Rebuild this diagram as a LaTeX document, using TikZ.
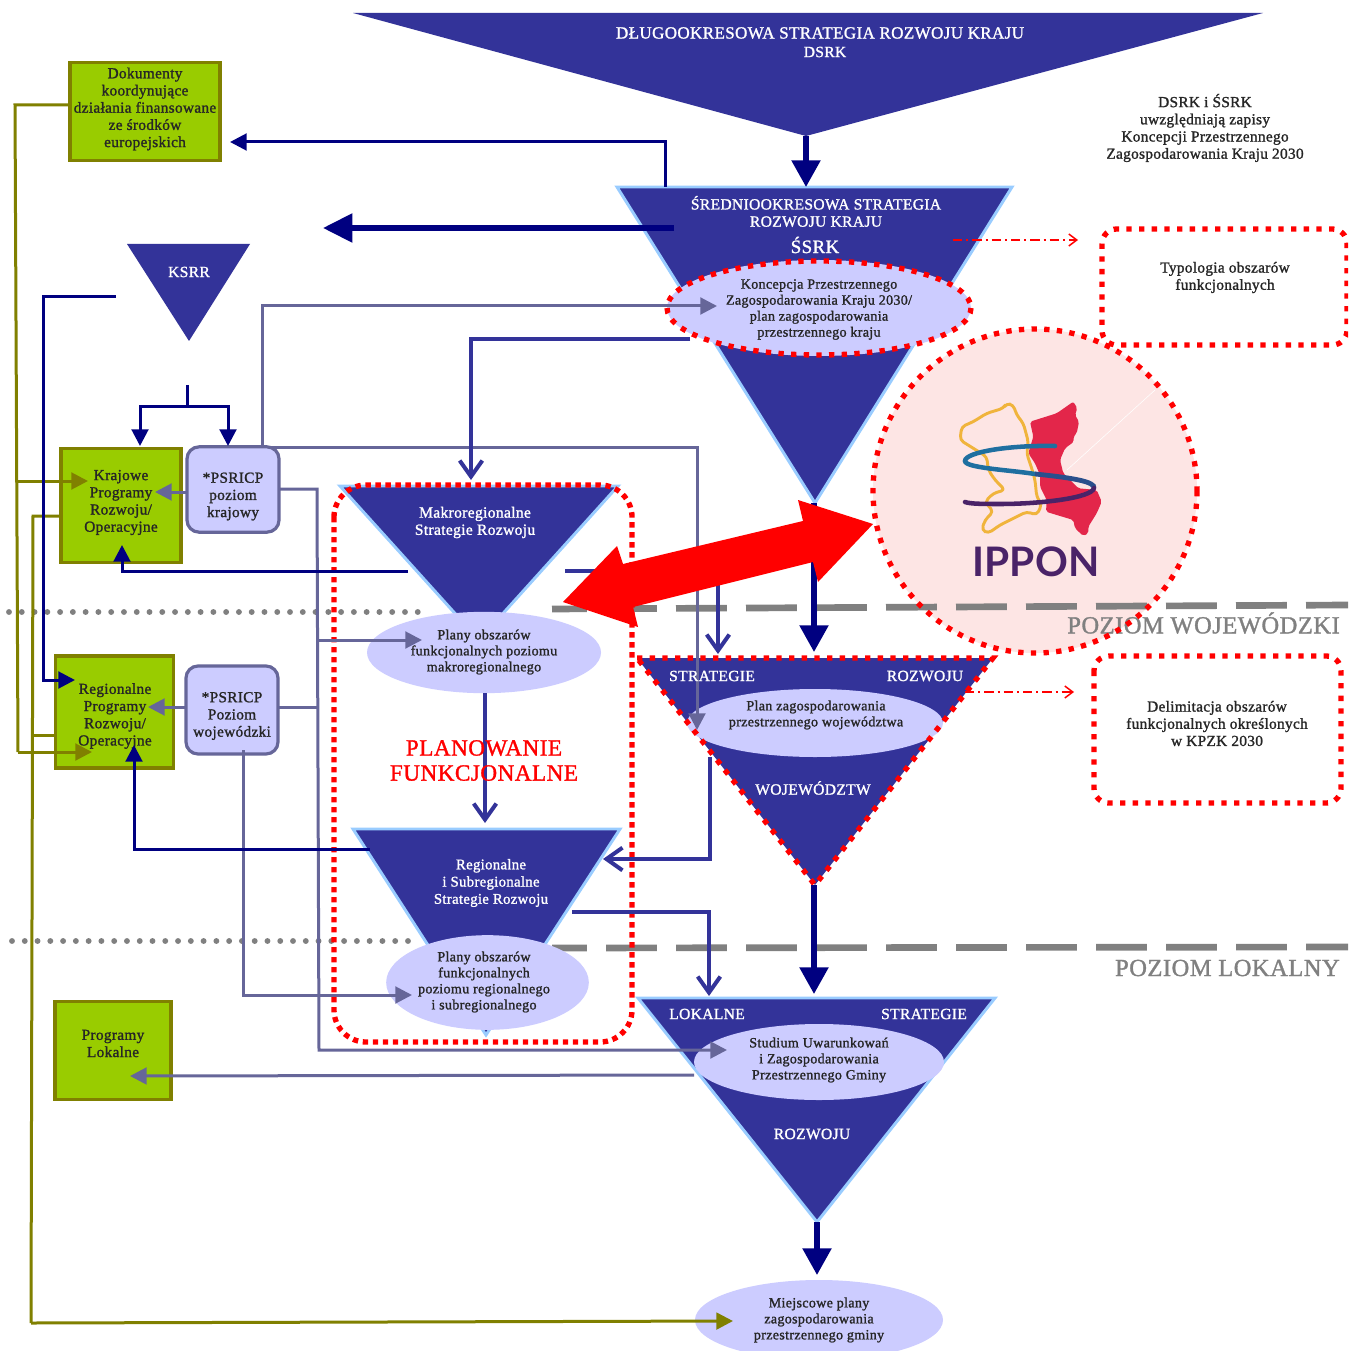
\documentclass[tikz,border=0pt]{standalone}
\usepackage{fontspec}
\setmainfont{Liberation Serif}[LetterSpace=2,RawFeature={embolden=1.3}]
\newfontfamily\ipponfont{Lato}
\usetikzlibrary{arrows.meta,shapes.geometric}
\definecolor{navyc}{HTML}{000080}
\definecolor{indigoc}{HTML}{333399}
\definecolor{lilac}{HTML}{CCCCFF}
\definecolor{slatec}{HTML}{666699}
\definecolor{greenc}{HTML}{99CC00}
\definecolor{olivec}{HTML}{808000}
\definecolor{skyc}{HTML}{99CCFF}
\definecolor{grayc}{HTML}{808080}
\definecolor{pinkc}{HTML}{FDE5E4}
\definecolor{ipponv}{HTML}{4A2368}
\definecolor{logored}{HTML}{E3264A}
\definecolor{logoyel}{HTML}{F0B43C}
\definecolor{logotea}{HTML}{1F6FA0}
\definecolor{logoblu}{HTML}{2A4F8C}
\tikzset{
  x=0.75pt,y=-0.75pt,
  tri/.style={fill=indigoc,draw=skyc,line width=2.2pt,line join=miter},
  oval/.style={ellipse,fill=lilac,inner sep=0pt,outer sep=0pt},
  txt/.style={font=\fontsize{11.5}{12.9}\selectfont,align=center,inner sep=0pt,text=black!85,yshift=-0.75pt},
  txs/.style={font=\fontsize{10.6}{12}\selectfont,align=center,inner sep=0pt,text=black!85,yshift=-0.75pt},
  wtxt/.style={font=\fontsize{11.7}{12.9}\selectfont,align=center,inner sep=0pt,text=white},
  gbox/.style={draw=olivec,fill=greenc,line width=2.4pt,inner sep=0pt},
  pbox/.style={draw=slatec,fill=lilac,line width=2.4pt,rounded corners=9pt,inner sep=0pt},
  rdot/.style={draw=red,line width=4pt,dash pattern=on 4pt off 3.5pt},
  rdotb/.style={draw=red,line width=4pt,dash pattern=on 4pt off 5.5pt},
  thick arrow/.style={draw=navyc,line width=4pt,-{Triangle[length=20pt,width=21pt]}},
  nav/.style={draw=navyc,line width=2.25pt,-{Triangle[length=12.5pt,width=12.5pt]}},
  slatel/.style={draw=slatec,line width=2.25pt},
  slatea/.style={slatel,-{Triangle[length=12.5pt,width=12.5pt]}},
  oliv/.style={draw=olivec,line width=2.25pt},
  oliva/.style={oliv,-{Triangle[length=12.5pt,width=12.5pt]}},
  opena/.style={draw=indigoc,line width=2.6pt,-{Straight Barb[length=12pt,width=17pt,line width=3pt]}},
  reddash/.style={draw=red,line width=1pt,dash pattern=on 7pt off 3pt on 1.5pt off 3pt,-{Straight Barb[length=6pt,width=9pt,line width=1.1pt]}},
  lvl/.style={font=\fontsize{18.4}{20}\selectfont,text=grayc,inner sep=0pt,anchor=east},
  dots/.style={draw=grayc,line width=4.4pt,line cap=round,dash pattern=on 0pt off 9.58pt},
  dashes/.style={draw=grayc,line width=5pt,dash pattern=on 38.2pt off 14.3pt,dash phase=12pt},
}
\begin{document}
\begin{tikzpicture}
\useasboundingbox (0,0) rectangle (1348,1351);
\clip (0,0) rectangle (1348,1351);
\fill[white] (0,0) rectangle (1348,1351);

% IPPON circle (below the level lines, which show through it)
\fill[pinkc] (1035,491) circle [radius=162];

% level separators
\draw[dots] (9,612) -- (422,612);
\draw[dots] (12,941) -- (412,941);
\draw[dashes] (552,609) -- (1348,605);
\draw[dashes] (552,948) -- (1348,947);
\node[lvl] (lvlw) at (1340,623) {POZIOM WOJEWÓDZKI};
\node[lvl] (lvll) at (1340,968) {POZIOM LOKALNY};

% olive connector points
\coordinate (o1) at (15,105);
\coordinate (o2) at (18,752);
\coordinate (o3) at (92,752);
\coordinate (o4) at (16,481);
\coordinate (o5) at (88,481);
\coordinate (o6) at (33,516);
\coordinate (o7) at (31,1323);
\coordinate (o8) at (733,1321);
\coordinate (o9) at (33,735);

% green boxes
\node[gbox,minimum width=112.5pt,minimum height=73pt] (g1) at (145,111.5) {};
\node[gbox,minimum width=90pt,minimum height=86pt] (g2) at (121,505.5) {};
\node[gbox,minimum width=89pt,minimum height=84pt] (g3) at (114.5,712) {};
\node[gbox,minimum width=87pt,minimum height=74pt] (g4) at (113,1050.5) {};
\node[txt] (g1t) at (145,108) {Dokumenty\\koordynujące\\działania finansowane\\ze środków\\europejskich};
\node[txt] (g2t) at (121,501.5) {Krajowe\\Programy\\Rozwoju/\\Operacyjne};
\node[txt] (g3t) at (115,715) {Regionalne\\Programy\\Rozwoju/\\Operacyjne};
\node[txt] (g4t) at (113,1042.5) {Programy\\Lokalne};

% PSRICP boxes
\node[pbox,minimum width=69pt,minimum height=64pt] (p1) at (233,489.5) {};
\node[pbox,minimum width=69pt,minimum height=66pt] (p2) at (232,710) {};
\node[txt] (p1t) at (233,495.5) {*PSRICP\\poziom\\krajowy};
\node[txt] (p2t) at (232,715) {*PSRICP\\Poziom\\wojewódzki};

% triangles
\fill[indigoc] (353,13) -- (1263,13) -- (806,136) -- cycle;
\path[tri] (617,187) -- (1012,187) -- (815,503) -- cycle;
\fill[indigoc] (127,244) -- (250,244) -- (189,341) -- cycle;
\path[tri] (340,486) -- (618,486) -- (479,640) -- cycle;
\path[tri] (353,829) -- (620,829) -- (486,1035) -- cycle;
\fill[indigoc] (637,658) -- (993,658) -- (815,885) -- cycle;
\path[tri] (638,998) -- (995,998) -- (817,1222) -- cycle;

% ovals
\node[oval,minimum width=228pt,minimum height=72pt] (e1) at (819,308) {};
\node[oval,minimum width=175.5pt,minimum height=61pt] (e2) at (484,652.5) {};
\node[oval,minimum width=192pt,minimum height=51pt] (e3) at (815,723) {};
\node[oval,minimum width=152pt,minimum height=71pt] (e4) at (487.5,982.5) {};
\node[oval,minimum width=187.5pt,minimum height=57pt] (e5) at (819,1062) {};
\node[oval,minimum width=186pt,minimum height=60pt] (e6) at (819,1320) {};

% red dotted borders
\draw[rdotb] (637,658) -- (993,658) -- (815,885) -- cycle;
\draw[rdotb] (e1) ellipse [x radius=152,y radius=47];
\draw[rdotb,rounded corners=11pt] (1102,229) rectangle (1347,345);
\draw[rdotb,rounded corners=11pt] (1094,656) rectangle (1341,803);
\draw[rdot,rounded corners=24pt] (334,485) rectangle (632,1042);

% connector points
\coordinate (t1b) at (806,136);
\coordinate (t2t) at (806,187);
\coordinate (a1s) at (665,187);
\coordinate (a1c) at (665,142);
\coordinate (a1e) at (230,142);
\coordinate (a2s) at (674,228);
\coordinate (a2e) at (323,228);
\coordinate (k1) at (116,297);
\coordinate (k2) at (43,297);
\coordinate (k3) at (43,680);
\coordinate (k4) at (75,680);
\coordinate (b0) at (187,385);
\coordinate (b1) at (187,406);
\coordinate (b2) at (140,406);
\coordinate (b3) at (140,446);
\coordinate (b4) at (228,406);
\coordinate (b5) at (228,446);
\coordinate (pk1e) at (155,492);
\coordinate (pk1s) at (187,492);
\coordinate (pk2e) at (148,707);
\coordinate (pk2s) at (186,707);
\coordinate (s1) at (262,447);
\coordinate (s2) at (262,306);
\coordinate (s3) at (717,306);
\coordinate (s4) at (270,447);
\coordinate (s5) at (697,447);
\coordinate (s6) at (697,730);
\coordinate (i1) at (690,339);
\coordinate (i2) at (471,339);
\coordinate (i3) at (471,480);
\coordinate (l1) at (279,489);
\coordinate (l2) at (317,489);
\coordinate (l3) at (319,1050);
\coordinate (l4) at (727,1050);
\coordinate (l5) at (317,640);
\coordinate (l6) at (422,640);
\coordinate (l7) at (278,707);
\coordinate (l8) at (317,707);
\coordinate (m1) at (243,750);
\coordinate (m2) at (243,995);
\coordinate (m3) at (412,995);
\coordinate (n1) at (408,571);
\coordinate (n2) at (122,571);
\coordinate (n3) at (122,545);
\coordinate (q1) at (565,571);
\coordinate (q2) at (718,571);
\coordinate (q3) at (718,654);
\coordinate (u1) at (814,503);
\coordinate (u2) at (814,652);
\coordinate (v1) at (485,693);
\coordinate (v2) at (485,823);
\coordinate (w1) at (710,757);
\coordinate (w2) at (710,859);
\coordinate (w3) at (603,859);
\coordinate (x1) at (370,849);
\coordinate (x2) at (134,849);
\coordinate (x3) at (134,745);
\coordinate (y1) at (572,912);
\coordinate (y2) at (709,912);
\coordinate (y3) at (709,996);
\coordinate (z1) at (814,885);
\coordinate (z2) at (814,994);
\coordinate (z3) at (817,1222);
\coordinate (z4) at (817,1275);
\coordinate (z5) at (694,1075);
\coordinate (z6) at (130,1076);
\coordinate (d1) at (953,240);
\coordinate (d2) at (1078,240);
\coordinate (d3) at (965,692);
\coordinate (d4) at (1074,692);

% olive connectors
\draw[oliv] (g1.west |- o1) -- (o1) -- (o2);
\draw[oliva] (o2) -- (o3);
\draw[oliva] (o4) -- (o5);
\draw[oliv] (g2.west |- o6) -- (o6) -- (o7);
\draw[oliva] (o7) -- (o8);
\draw[oliv] (g3.west |- o9) -- (o9);

% connectors
\draw[thick arrow] (t1b) -- (t2t);
\draw[nav] (a1s) -- (a1c) -- (a1e);
\draw[thick arrow,-{Triangle[length=22pt,width=21pt]}] (a2s) -- (a2e);
\draw[nav] (k1) -- (k2) -- (k3) -- (k4);
\draw[navyc,line width=2.25pt] (b0) -- (b1);
\draw[nav] (b1) -- (b2) -- (b3);
\draw[nav] (b1) -- (b4) -- (b5);
\draw[slatea] (pk1s) -- (pk1e);
\draw[slatea] (pk2s) -- (pk2e);
\draw[slatea] (s1) -- (s2) -- (s3);
\draw[slatea] (s4) -- (s5) -- (s6);
\draw[opena] (i1) -- (i2) -- (i3);
\draw[slatea] (l1) -- (l2) -- (l3) -- (l4);
\draw[slatea] (l5) -- (l6);
\draw[slatel] (l7) -- (l8);
\draw[slatea] (m1) -- (m2) -- (m3);
\draw[nav] (n1) -- (n2) -- (n3);
\draw[opena] (q1) -- (q2) -- (q3);
\draw[thick arrow] (u1) -- (u2);
\draw[opena] (v1) -- (v2);
\draw[opena] (w1) -- (w2) -- (w3);
\draw[nav] (x1) -- (x2) -- (x3);
\draw[opena] (y1) -- (y2) -- (y3);
\draw[thick arrow] (z1) -- (z2);
\draw[thick arrow] (z3) -- (z4);
\draw[slatea] (z5) -- (z6);
\draw[reddash] (d1) -- (d2);
\draw[reddash] (d3) -- (d4);

% IPPON border and logo
\draw[rdotb] (1035,491) circle [radius=162];
\draw[white,line width=0.4pt] (1067,470) -- (1155,390);
\fill[logored,rounded corners=1.5pt] (1030,421.7) -- (1056.7,413.3) -- (1073.3,401.7) -- (1077.3,408.3) -- (1075,415) -- (1079,421.7) -- (1076.7,433.3) -- (1073.3,436.7) -- (1074,441.7) -- (1065,448.3) -- (1060,460) -- (1063.3,473.3) -- (1078.3,488.3) -- (1096.7,490) -- (1101.7,501.7) -- (1096.7,513.3) -- (1088.3,526.7) -- (1088.3,533.3) -- (1083.3,536) -- (1075,528.3) -- (1073.3,520) -- (1056.7,515) -- (1046,511.7) -- (1046.7,500) -- (1040,486.7) -- (1040,475) -- (1035,463.3) -- (1028.3,453.3) -- (1033.3,436.7) -- cycle;
\draw[logoyel,line width=2.2pt,line join=round,rounded corners=3pt] (1006.7,403.3) -- (1013.3,405) -- (1016.7,415) -- (1023.3,423.3) -- (1028.3,441.7) -- (1026.7,453.3) -- (1031.7,468.3) -- (1035,480) -- (1036.7,496.7) -- (1041.7,505) -- (1036.7,515) -- (1026.7,511.7) -- (1016.7,516.7) -- (1000,525) -- (988.3,533.3) -- (981.7,530) -- (985,520) -- (993.3,511.7) -- (985,501.7) -- (993.3,493.3) -- (1005,490) -- (995,480) -- (988.3,470) -- (986.7,456.7) -- (973.3,448.3) -- (960,440) -- (961.7,426.7) -- (973.3,421.7) -- (986.7,413.3) -- (1003.3,408.3) -- cycle;
\draw[logotea,line width=3.4pt,line cap=round] (1055,446) .. controls (1010,445) and (965,452) .. (965,461) .. controls (965,468) and (1010,470) .. (1035,474);
\draw[logoblu,line width=3.6pt] (1035,474) .. controls (1075,478) and (1095,482) .. (1094,488);
\draw[ipponv,line width=3.4pt,line cap=round] (1094,488) .. controls (1092,498) and (1040,504) .. (1000,504) .. controls (985,504) and (970,504) .. (965,502);
\node[font=\ipponfont\bfseries\fontsize{30.5}{31}\selectfont,text=ipponv,inner sep=0pt] (ippon) at (1036,562) {IPPON};

% texts
\node[wtxt,font=\fontsize{12.8}{14}\selectfont] (t1a) at (820,33) {DŁUGOOKRESOWA STRATEGIA ROZWOJU KRAJU};
\node[wtxt] (t1c) at (825,52) {DSRK};
\node[wtxt] (t2a) at (816,211.5) {ŚREDNIOOKRESOWA STRATEGIA\\ROZWOJU KRAJU};
\node[wtxt,font=\fontsize{14.2}{15}\selectfont] (t2b) at (815,245) {ŚSRK};
\node[wtxt] (kt) at (189,272) {KSRR};
\node[txs] (e1t) at (819,308.5) {Koncepcja Przestrzennego\\Zagospodarowania Kraju 2030/\\plan zagospodarowania\\przestrzennego kraju};
\node[txt] (note) at (1205,127) {DSRK i ŚSRK\\uwzględniają zapisy\\Koncepcji Przestrzennego\\Zagospodarowania Kraju 2030};
\node[txt] (r1t) at (1225,276.5) {Typologia obszarów\\funkcjonalnych};
\node[txt] (r2t) at (1217,722.5) {Delimitacja obszarów\\funkcjonalnych określonych\\w KPZK 2030};
\node[wtxt] (mt) at (475,522.5) {Makroregionalne\\Strategie Rozwoju};
\node[wtxt,font=\fontsize{11.1}{12.9}\selectfont] (rt) at (491,883) {Regionalne\\i Subregionalne\\Strategie Rozwoju};
\node[txs] (e2t) at (484,651) {Plany obszarów\\funkcjonalnych poziomu\\makroregionalnego};
\node[txs] (e4t) at (484,981) {Plany obszarów\\funkcjonalnych\\poziomu regionalnego\\i subregionalnego};
\node[font=\fontsize{17.4}{18.8}\selectfont,align=center,text=red,inner sep=0pt] (pf) at (484,760.5) {PLANOWANIE\\FUNKCJONALNE};
\node[wtxt] (ws) at (712,676) {STRATEGIE};
\node[wtxt] (wr) at (925,676) {ROZWOJU};
\node[wtxt] (ww) at (813,788) {WOJEWÓDZTW};
\node[txs] (e3t) at (816,714) {Plan zagospodarowania\\przestrzennego województwa};
\node[wtxt] (ls) at (707,1014) {LOKALNE};
\node[wtxt] (lr) at (924,1014) {STRATEGIE};
\node[wtxt] (lw) at (812,1134) {ROZWOJU};
\node[txs] (e5t) at (819,1059) {Studium Uwarunkowań\\i Zagospodarowania\\Przestrzennego Gminy};
\node[txs] (e6t) at (819,1319) {Miejscowe plany\\zagospodarowania\\przestrzennego gminy};

% red double arrow
\fill[red] (563,602) -- (617,546) -- (623,564) -- (803,521) -- (798,500) -- (873,524) -- (818,582) -- (813,562) -- (633,607) -- (638,627) -- cycle;
\end{tikzpicture}
\end{document}
